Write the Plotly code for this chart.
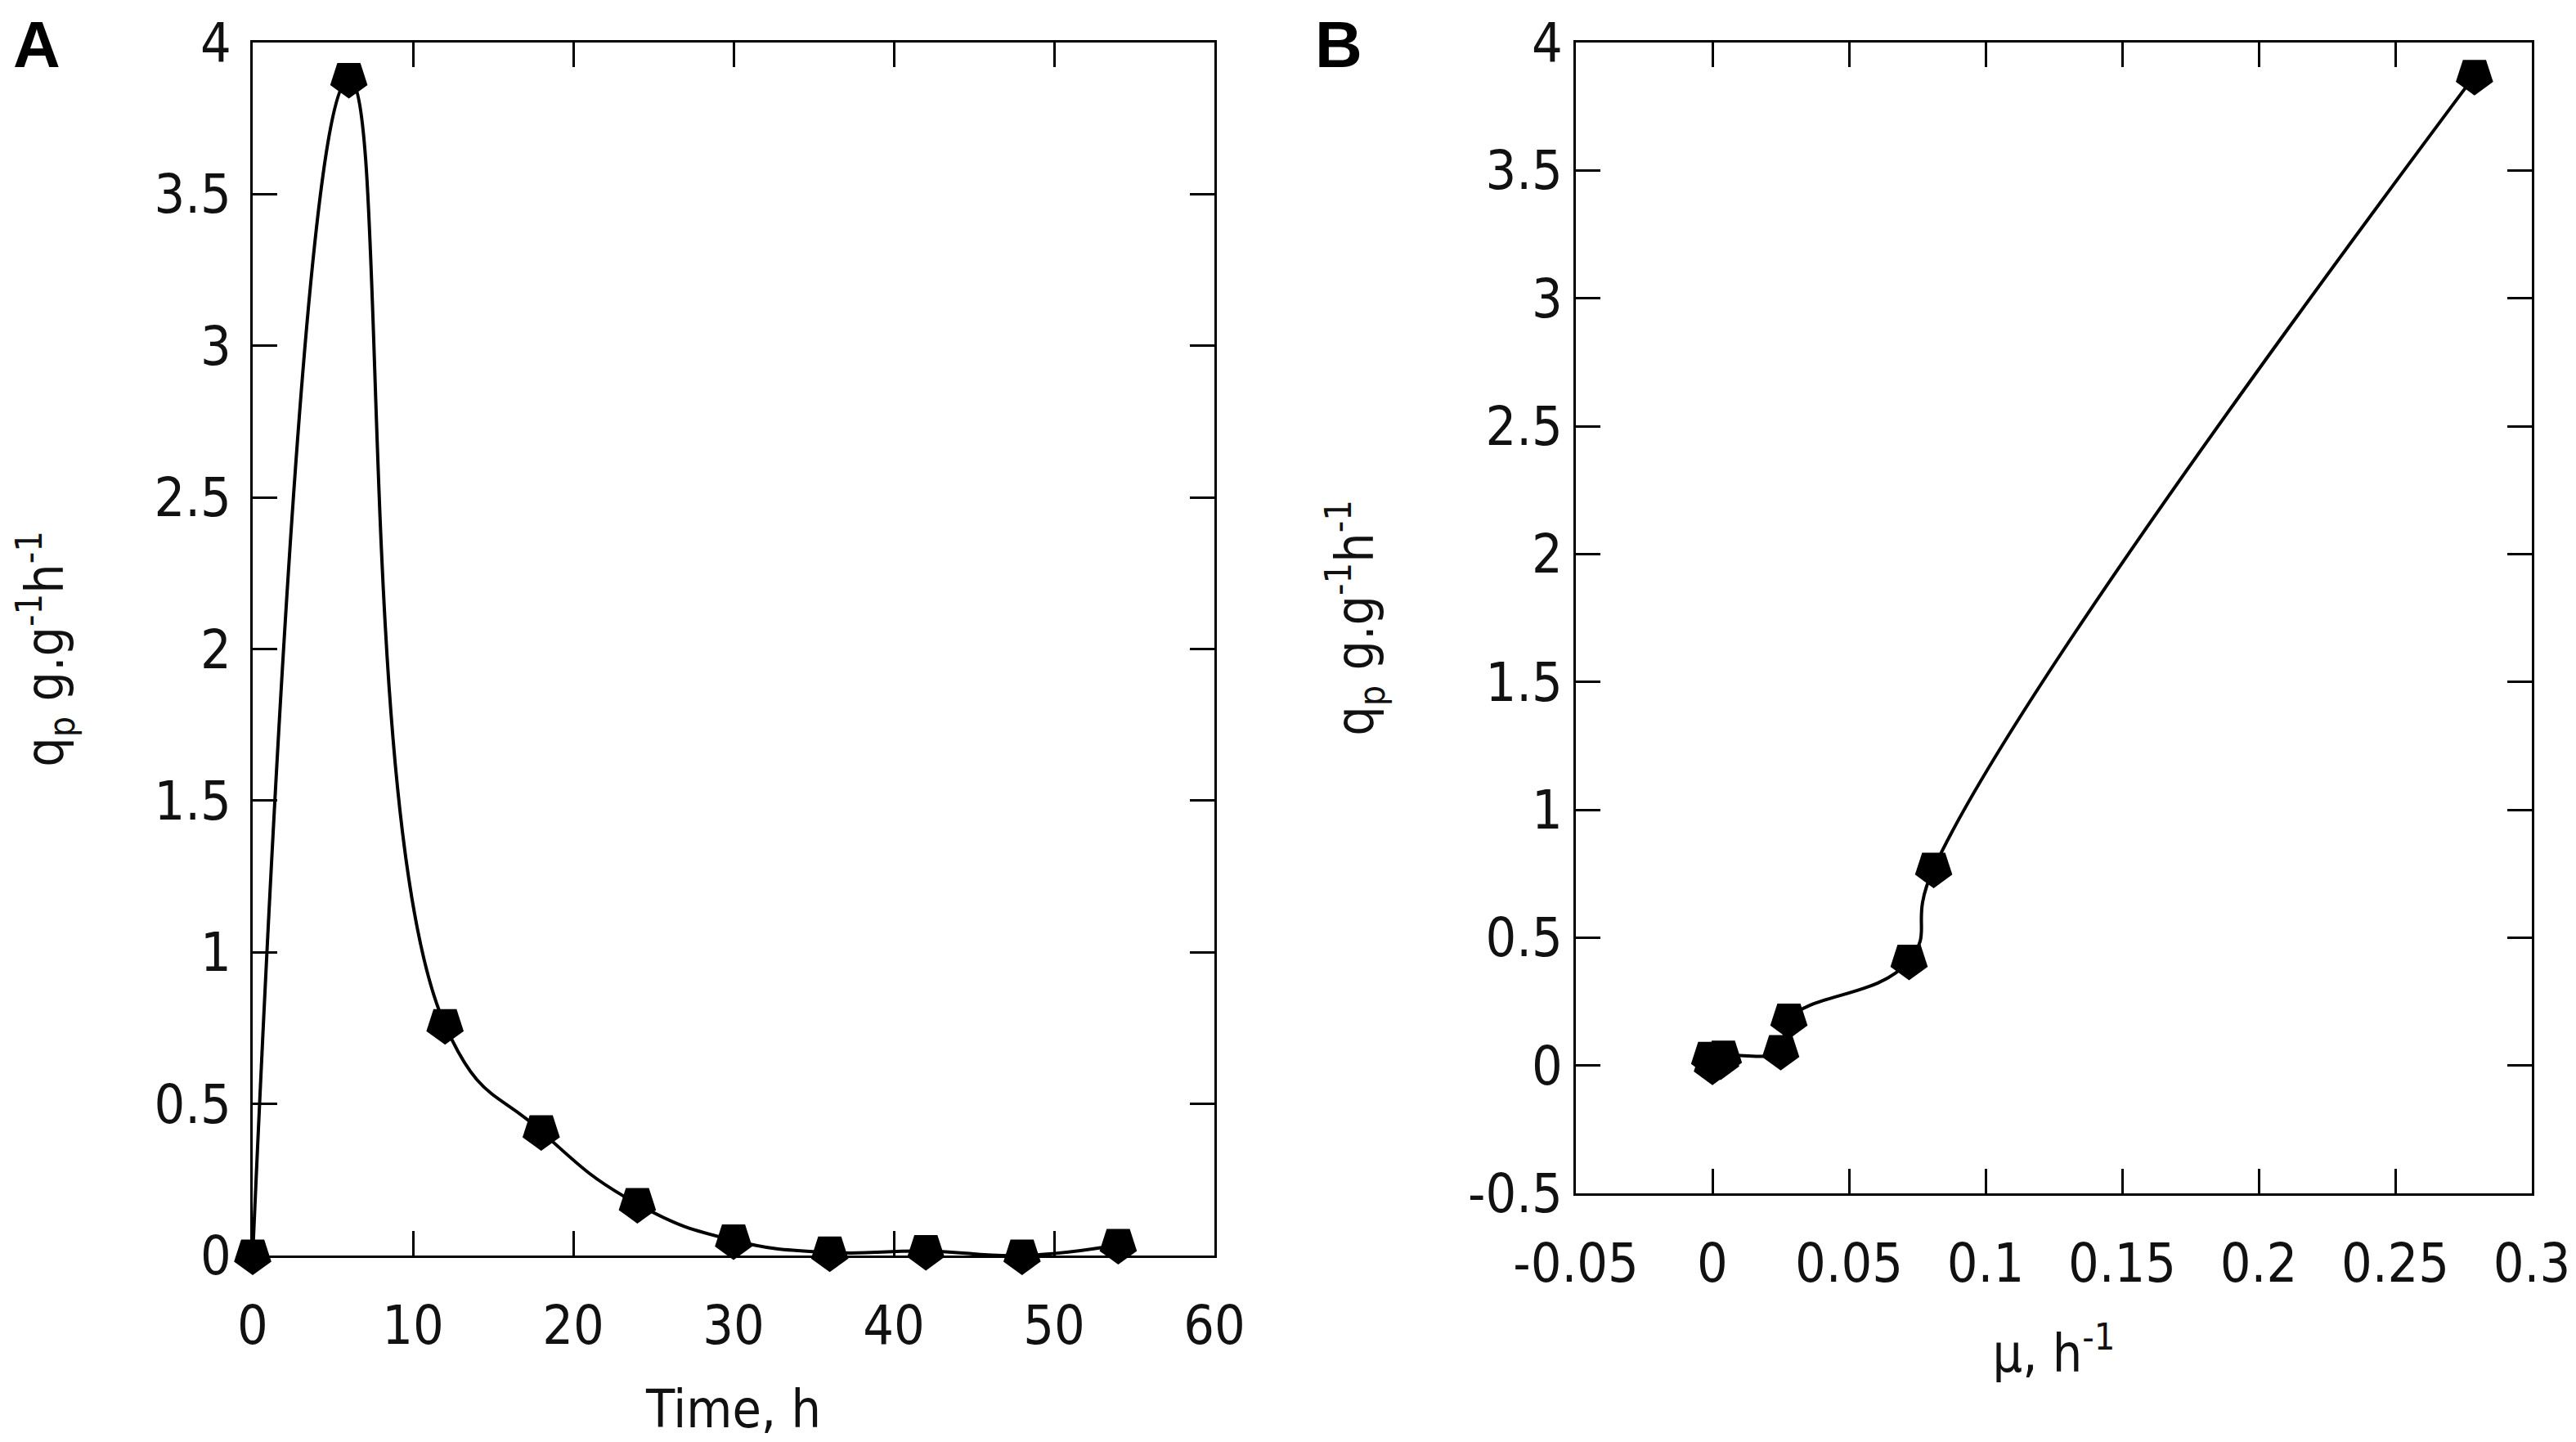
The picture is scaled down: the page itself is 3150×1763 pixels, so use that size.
import plotly.graph_objects as go

# panel A: specific product formation rate over time
time_h = [0, 6, 12, 18, 24, 30, 36, 42, 48, 54]
qp_time = [0.0, 3.88, 0.76, 0.41, 0.17, 0.05, 0.01, 0.015, 0.0, 0.035]

# panel B: qp against specific growth rate (sorted by mu)
mu = [-0.001, 0.0, 0.003, 0.004, 0.025, 0.028, 0.072, 0.081, 0.279]
qp_mu = [0.03, 0.0, 0.02, 0.035, 0.057, 0.18, 0.41, 0.77, 3.87]

x_ticks_a = [0, 10, 20, 30, 40, 50, 60]
y_ticks_a = [0, 0.5, 1, 1.5, 2, 2.5, 3, 3.5, 4]
x_ticks_b = [-0.05, 0, 0.05, 0.1, 0.15, 0.2, 0.25, 0.3]
y_ticks_b = [-0.5, 0, 0.5, 1, 1.5, 2, 2.5, 3, 3.5, 4]

W, H = 3150, 1763
TOP = 44
font_fam = "DejaVu Sans Condensed, DejaVu Sans, Arial"


def labels(vals):
    # plain hyphen for negatives, as in the original
    return ['%g' % v for v in vals]


marker = dict(symbol='pentagon', size=48, angle=180, color='black',
              line=dict(width=0))
line = dict(color='black', width=4, shape='spline', smoothing=1.3)

fig = go.Figure()
fig.add_trace(go.Scatter(x=time_h, y=qp_time, mode='lines+markers',
                         line=line, marker=marker, xaxis='x', yaxis='y',
                         showlegend=False, cliponaxis=False))
fig.add_trace(go.Scatter(x=mu, y=qp_mu, mode='lines+markers',
                         line=line, marker=marker, xaxis='x2', yaxis='y2',
                         showlegend=False, cliponaxis=False))

axis_common = dict(
    showgrid=False, zeroline=False, showline=True, linecolor='black',
    linewidth=3, mirror='allticks', ticks='inside', ticklen=30,
    tickwidth=3, tickcolor='black', automargin=False,
    ticklabeloverflow='allow',
    tickfont=dict(family=font_fam, size=66, color='#111'),
)

title_font = dict(family=font_fam, size=64, color='#111')
ytitle = 'q<sub>p</sub> g.g<sup>-1</sup>h<sup>-1</sup>'

fig.update_layout(
    width=W, height=H,
    margin=dict(l=0, r=0, t=0, b=0),
    paper_bgcolor='white', plot_bgcolor='white',
    xaxis=dict(axis_common, domain=[301 / W, 1477 / W], range=[0, 60],
               tickvals=x_ticks_a, ticktext=labels(x_ticks_a), anchor='y',
               ticklabelstandoff=26,
               title=dict(text='Time, h', font=title_font, standoff=42)),
    yaxis=dict(axis_common, domain=[1 - 1527 / H, 1 - TOP / H], range=[0, 4],
               tickvals=y_ticks_a, ticktext=labels(y_ticks_a), anchor='x',
               ticklabelstandoff=10,
               title=dict(text=ytitle, font=title_font, standoff=90)),
    xaxis2=dict(axis_common, domain=[1919 / W, 3088 / W], range=[-0.05, 0.3],
                tickvals=x_ticks_b, ticktext=labels(x_ticks_b), anchor='y2',
                ticklabelstandoff=26,
                title=dict(text='μ, h<sup>-1</sup>', font=title_font, standoff=50)),
    yaxis2=dict(axis_common, domain=[1 - 1451 / H, 1 - TOP / H], range=[-0.5, 4],
                tickvals=y_ticks_b, ticktext=labels(y_ticks_b), anchor='x2',
                ticklabelstandoff=0,
                title=dict(text=ytitle, font=title_font, standoff=95)),
    annotations=[
        dict(text='<b>A</b>', x=0.002, y=1.0, xref='paper', yref='paper',
             xanchor='left', yanchor='top', showarrow=False,
             font=dict(family='Liberation Sans, Arial', size=80, color='black')),
        dict(text='<b>B</b>', x=1598 / W, y=1.0, xref='paper', yref='paper',
             xanchor='left', yanchor='top', showarrow=False,
             font=dict(family='Liberation Sans, Arial', size=80, color='black')),
    ],
)

fig.write_html("out.html")
